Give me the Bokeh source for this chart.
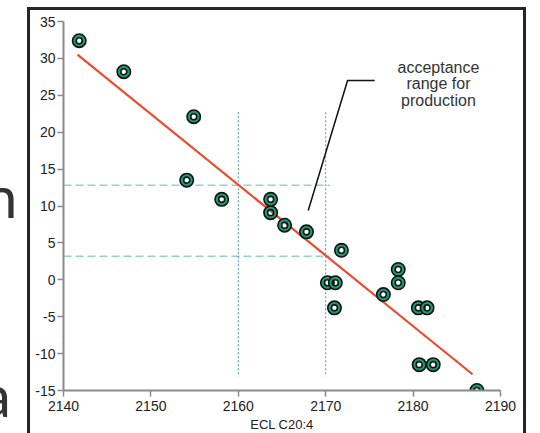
from bokeh.plotting import figure
from bokeh.models import FixedTicker, PrintfTickFormatter, Title, InlineStyleSheet, Div
from bokeh.layouts import column
from bokeh.core.properties import value
from bokeh.embed import file_html
from bokeh.resources import INLINE

# data
ecl = [2141.8, 2146.9, 2154.9, 2154.1, 2158.1, 2163.7, 2163.7, 2165.3, 2167.8, 2171.8,
       2170.2, 2171.1, 2171.0, 2176.6, 2178.3, 2178.3, 2180.6, 2181.6, 2180.7, 2182.3, 2187.3]
resp = [32.4, 28.2, 22.1, 13.5, 10.9, 10.9, 9.1, 7.4, 6.5, 4.0,
        -0.4, -0.4, -3.8, -2.0, 1.4, -0.4, -3.8, -3.8, -11.5, -11.5, -15.0]
fit_x = [2141.6, 2186.8]
fit_y = [30.5, -12.8]
accept_y = [12.8, 3.2]
accept_x_end = 2170.5
accept_x = [2160, 2170]
accept_v = [22.7, -13.1]
pointer_x = [2175.6, 2172.5, 2168.0]
pointer_y = [27.0, 27.0, 9.4]
note_lines = ["acceptance", "range for", "production"]
note_x = 2182.9
note_y = [28.8, 26.6, 24.3]
x_ticks = [2140, 2150, 2160, 2170, 2180, 2190]
y_ticks = [-15, -10, -5, 0, 5, 10, 15, 20, 25, 30, 35]
x_title = "ECL C20:4"
side_fragments = ["n", "a"]

FONT = "Liberation Sans"

frame_css = InlineStyleSheet(css="""
:host { position: relative; overflow: hidden; }
:host::after {
  content: ""; position: absolute; left: 26.5px; top: 6.5px; width: 499px; height: 440px;
  border: 3px solid #262626; border-bottom: none; box-sizing: border-box; pointer-events: none;
}
""")

p = figure(width=540, height=433, output_backend="svg", toolbar_location=None,
           x_range=(2140, 2190), y_range=(-15, 35),
           min_border_left=63, min_border_right=40, min_border_top=21, min_border_bottom=43)
p.stylesheets = [frame_css]
p.outline_line_color = None
p.grid.visible = False
p.background_fill_color = "white"
p.border_fill_color = "white"

for ax, tk in ((p.xaxis, x_ticks), (p.yaxis, y_ticks)):
    ax.ticker = FixedTicker(ticks=tk)
    ax.formatter = PrintfTickFormatter(format="%d")
    ax.axis_line_color = "#8a8a8a"
    ax.axis_line_width = 2
    ax.major_tick_line_color = "#8a8a8a"
    ax.major_tick_line_width = 1.5
    ax.major_tick_out = 6
    ax.major_tick_in = 0
    ax.minor_tick_line_color = None
    ax.major_label_text_font = FONT
    ax.major_label_text_font_size = "14px"
    ax.major_label_text_color = "#222222"
p.xaxis.major_label_standoff = 4
p.yaxis.major_label_standoff = 2

# acceptance range guides
for yv in accept_y:
    p.line([2140, accept_x_end], [yv, yv], line_color="#93d3cf", line_width=1.5, line_dash="8 4")
for xv in accept_x:
    p.line([xv, xv], accept_v, line_color="#3aa0a0", line_width=1, line_dash="2 2")

# regression line
p.line(fit_x, fit_y, line_color="#ee4a2e", line_width=2.2)

# points
p.annulus(x=ecl, y=resp, inner_radius=3.0, outer_radius=6.7,
          inner_radius_units="screen", outer_radius_units="screen",
          fill_color="#1c9c73", line_color="#111111", line_width=1.6)

# annotation pointer and note
p.line(pointer_x, pointer_y, line_color="#111111", line_width=1.5)
p.text(x=[note_x] * 3, y=note_y, text=note_lines, text_align="center", text_baseline="middle",
       text_font=value(FONT), text_font_size="16px", text_color="#333333")

# axis title
p.add_layout(Title(text=x_title, align="center", offset=-16, standoff=2,
                   text_font=FONT, text_font_size="13px", text_font_style="normal",
                   text_color="#222222"), "below")

frag_style = {"position": "absolute", "font-family": "Lato", "font-size": "58px",
              "line-height": "1", "color": "#333333", "margin": "0"}
d_n = Div(text=side_fragments[0], styles=dict(frag_style, left="-15px", top="167px"))
d_a = Div(text=side_fragments[1], styles=dict(frag_style, left="-18px", top="366px"))

layout = column(p, d_n, d_a, styles={"position": "relative"})
open("out.html", "w").write(file_html(layout, INLINE))
